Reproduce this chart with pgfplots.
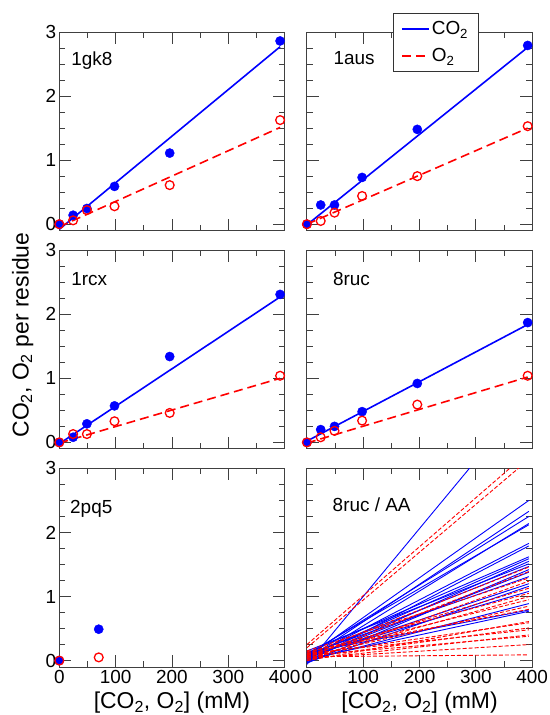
\documentclass[border=0pt]{standalone}
\usepackage{fontspec}
\setmainfont{Liberation Sans}
\usepackage{pgfplots}
\pgfplotsset{compat=1.18}
\definecolor{cblue}{RGB}{0,0,255}
\definecolor{cred}{RGB}{255,0,0}
\tikzset{plab/.style={anchor=base west, font=\fontsize{19}{19}\selectfont, inner sep=0pt}}
\pgfplotsset{
  panel/.style={
    scale only axis, width=225.3bp, height=198.6bp,
    xmin=0, xmax=400, ymin=-0.1, ymax=3,
    xtick={0,100,200,300,400}, ytick={0,1,2,3},
    minor x tick num=1, minor y tick num=3,
    tick align=inside,
    major tick length=12bp, minor tick length=6bp,
    axis line style={black!75, line width=0.9bp},
    tick style={black!75, line width=0.9bp},
    /pgf/number format/assume math mode=true,
    ticklabel style={font=\fontsize{19}{19}\selectfont, inner sep=3bp},
    anchor=north west,
    clip=false,
  },
  noxl/.style={xticklabel=\empty},
  noyl/.style={yticklabel=\empty},
  xlab/.style={xlabel={[CO\textsubscript{2}, O\textsubscript{2}] (mM)},
    xlabel style={at={(axis description cs:0.5,-0.124)}, anchor=north, inner sep=0pt, font=\fontsize{23}{23}\selectfont}},
  fitblue/.style={cblue, line width=1.6bp, no marks},
  fitred/.style={cred, line width=1.6bp, dash pattern=on 9bp off 5bp, no marks},
  ptblue/.style={only marks, mark=*, mark size=4.6bp, cblue, mark options={fill=cblue, draw=cblue, solid}},
  ptred/.style={only marks, mark=o, mark size=4.4bp, cred, mark options={line width=1.3bp, solid}},
  aablue/.style={cblue, line width=0.9bp, no marks},
  aared/.style={cred, line width=0.9bp, dash pattern=on 4bp off 2bp, no marks},
}
\begin{document}
\begin{tikzpicture}
\useasboundingbox (0,0) rectangle (550bp,-715bp);

% ---------- 1gk8 ----------
\begin{axis}[panel, noxl, at={(59.3bp,-32bp)}]
\addplot[fitblue] coordinates {(0,-0.08) (392,2.77)};
\addplot[fitred] coordinates {(0,-0.04) (392,1.51)};
\addplot[ptblue] coordinates {(0,0) (24.5,0.14) (49,0.245) (98,0.59) (196,1.11) (392,2.86)};
\addplot[ptred] coordinates {(0,0) (24.5,0.06) (49,0.22) (98,0.28) (196,0.61) (392,1.625)};
\node[plab] at (axis cs:21,2.48) {1gk8};
\end{axis}

% ---------- 1aus ----------
\begin{axis}[panel, noxl, noyl, at={(306.9bp,-32bp)},
  legend style={at={(axis description cs:0.3813,1.094)}, anchor=north west,
    draw, color=black!80, text=black, fill=white, font=\fontsize{19}{19}\selectfont,
    line width=0.9bp,
    inner xsep=8bp, inner ysep=6bp, row sep=8bp,
    /tikz/every even column/.append style={column sep=15bp}},
  legend cell align=left,
  legend image code/.code={\draw[#1] (0bp,0bp) -- (27bp,0bp);}]
\addplot[fitblue] coordinates {(0,-0.01) (392,2.76)};
\addlegendentry{CO\textsubscript{2}}
\addplot[fitred] coordinates {(0,0) (392,1.50)};
\addlegendentry{O\textsubscript{2}}
\addplot[ptblue] coordinates {(0,0) (24.5,0.30) (49,0.30) (98,0.73) (196,1.48) (392,2.79)};
\addplot[ptred] coordinates {(0,0) (24.5,0.05) (49,0.18) (98,0.44) (196,0.75) (392,1.53)};
\node[plab] at (axis cs:47,2.5) {1aus};
\end{axis}

% ---------- 1rcx ----------
\begin{axis}[panel, noxl, at={(59.3bp,-250.2bp)}]
\addplot[fitblue] coordinates {(0,-0.02) (392,2.27)};
\addplot[fitred] coordinates {(0,-0.01) (392,1.00)};
\addplot[ptblue] coordinates {(0,0) (24.5,0.08) (49,0.29) (98,0.57) (196,1.34) (392,2.31)};
\addplot[ptred] coordinates {(0,0) (24.5,0.13) (49,0.13) (98,0.33) (196,0.46) (392,1.04)};
\node[plab] at (axis cs:21,2.45) {1rcx};
\end{axis}

% ---------- 8ruc ----------
\begin{axis}[panel, noxl, noyl, at={(306.9bp,-250.2bp)}]
\addplot[fitblue] coordinates {(0,0.02) (392,1.84)};
\addplot[fitred] coordinates {(0,-0.01) (392,1.02)};
\addplot[ptblue] coordinates {(0,0) (24.5,0.20) (49,0.25) (98,0.48) (196,0.92) (392,1.87)};
\addplot[ptred] coordinates {(0,0) (24.5,0.08) (49,0.18) (98,0.34) (196,0.59) (392,1.04)};
\node[plab] at (axis cs:46,2.45) {8ruc};
\end{axis}

% ---------- 2pq5 ----------
\begin{axis}[panel, xlab, at={(59.3bp,-468.4bp)}]
\addplot[ptblue] coordinates {(0,0) (70,0.49)};
\addplot[ptred] coordinates {(0,0) (70,0.05)};
\node[plab] at (axis cs:19,2.30) {2pq5};
\end{axis}

% ---------- 8ruc / AA ----------
\begin{axis}[panel, xlab, noyl, clip=true, at={(306.9bp,-468.4bp)}]
\addplot[aablue] coordinates {(0,-0.06) (394,4.12)};
\addplot[aablue] coordinates {(0,0.05) (394,2.50)};
\addplot[aablue] coordinates {(0,0.02) (394,2.33)};
\addplot[aablue] coordinates {(0,0.08) (394,2.25)};
\addplot[aablue] coordinates {(0,0.00) (394,2.14)};
\addplot[aablue] coordinates {(0,0.10) (394,2.12)};
\addplot[aablue] coordinates {(0,0.04) (394,1.83)};
\addplot[aablue] coordinates {(0,-0.02) (394,1.79)};
\addplot[aablue] coordinates {(0,0.12) (394,1.62)};
\addplot[aablue] coordinates {(0,0.06) (394,1.59)};
\addplot[aablue] coordinates {(0,0.00) (394,1.55)};
\addplot[aablue] coordinates {(0,0.15) (394,1.51)};
\addplot[aablue] coordinates {(0,0.08) (394,1.47)};
\addplot[aablue] coordinates {(0,-0.04) (394,1.42)};
\addplot[aablue] coordinates {(0,0.03) (394,1.38)};
\addplot[aablue] coordinates {(0,0.10) (394,1.31)};
\addplot[aablue] coordinates {(0,0.05) (394,1.20)};
\addplot[aablue] coordinates {(0,-0.03) (394,1.16)};
\addplot[aablue] coordinates {(0,0.07) (394,1.08)};
\addplot[aablue] coordinates {(0,0.00) (394,0.89)};
\addplot[aablue] coordinates {(0,0.12) (394,0.79)};
\addplot[aablue] coordinates {(0,0.02) (394,0.77)};
\addplot[aared] coordinates {(0,0.25) (394,3.26)};
\addplot[aared] coordinates {(0,0.20) (394,3.14)};
\addplot[aared] coordinates {(0,0.10) (394,1.46)};
\addplot[aared] coordinates {(0,0.05) (394,1.39)};
\addplot[aared] coordinates {(0,0.15) (394,1.29)};
\addplot[aared] coordinates {(0,0.00) (394,1.24)};
\addplot[aared] coordinates {(0,0.08) (394,1.13)};
\addplot[aared] coordinates {(0,0.12) (394,1.05)};
\addplot[aared] coordinates {(0,0.03) (394,1.00)};
\addplot[aared] coordinates {(0,0.10) (394,0.95)};
\addplot[aared] coordinates {(0,0.06) (394,0.85)};
\addplot[aared] coordinates {(0,0.14) (394,0.80)};
\addplot[aared] coordinates {(0,0.00) (394,0.61)};
\addplot[aared] coordinates {(0,0.09) (394,0.59)};
\addplot[aared] coordinates {(0,0.05) (394,0.51)};
\addplot[aared] coordinates {(0,0.11) (394,0.48)};
\addplot[aared] coordinates {(0,0.02) (394,0.40)};
\addplot[aared] coordinates {(0,0.08) (394,0.38)};
\addplot[aared] coordinates {(0,0.04) (394,0.25)};
\addplot[aared] coordinates {(0,0.06) (394,0.09)};
\node[plab] at (axis cs:45.5,2.32) {8ruc / AA};
\end{axis}

\node[rotate=90, anchor=base, font=\fontsize{23}{23}\selectfont, inner sep=0pt] at (28.5bp,-335bp) {CO\textsubscript{2}, O\textsubscript{2} per residue};
\end{tikzpicture}
\end{document}
